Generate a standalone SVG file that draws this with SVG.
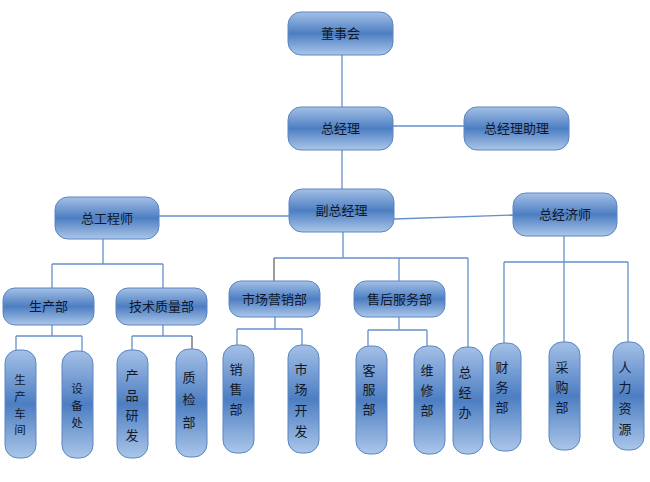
<svg xmlns="http://www.w3.org/2000/svg" width="650" height="482" viewBox="0 0 650 482">
<defs>
<linearGradient id="g" x1="0" y1="0" x2="0" y2="1">
<stop offset="0" stop-color="#a4c0e6"/>
<stop offset="0.5" stop-color="#4d7ec2"/>
<stop offset="1" stop-color="#abc6e9"/>
</linearGradient>
</defs>
<style>
.n rect{fill:url(#g);stroke:#5a86c2;stroke-width:1}
.n text{font-family:"Noto Sans CJK SC","Noto Sans CJK JP",sans-serif;font-size:13px;fill:#10182a;text-anchor:middle}
.n text.t{font-size:11.5px}
.c line{stroke:#6590cb;stroke-width:1.3;fill:none}
.c line.d{stroke:#666}
</style>
<rect width="650" height="482" fill="#fff"/>
<g class="c" id="connectors">
<line x1="342" y1="55" x2="342" y2="107"/>
<line x1="342" y1="150" x2="342" y2="189"/>
<line x1="393" y1="126" x2="464" y2="126"/>
<line x1="159" y1="216" x2="289" y2="216"/>
<line x1="394" y1="219" x2="513" y2="215"/>
<line x1="103" y1="239" x2="103" y2="264"/>
<line x1="52" y1="264" x2="163" y2="264"/>
<line x1="52" y1="264" x2="52" y2="288"/>
<line x1="163" y1="264" x2="163" y2="288"/>
<line x1="52" y1="325" x2="52" y2="336"/>
<line x1="16" y1="336" x2="82" y2="336"/>
<line x1="16" y1="336" x2="16" y2="350"/>
<line x1="82" y1="336" x2="82" y2="351"/>
<line x1="163" y1="325" x2="163" y2="336"/>
<line x1="132" y1="336" x2="192" y2="336"/>
<line x1="132" y1="336" x2="132" y2="350"/>
<line class="d" x1="192" y1="336" x2="192" y2="349"/>
<line x1="343" y1="232" x2="343" y2="258"/>
<line x1="274" y1="258" x2="468" y2="258"/>
<line class="d" x1="274" y1="258" x2="274" y2="281"/>
<line x1="399" y1="258" x2="399" y2="281"/>
<line x1="468" y1="258" x2="468" y2="347"/>
<line x1="275" y1="317" x2="275" y2="329"/>
<line x1="237" y1="329" x2="302" y2="329"/>
<line x1="237" y1="329" x2="237" y2="345"/>
<line x1="302" y1="329" x2="302" y2="345"/>
<line x1="399" y1="317" x2="399" y2="330"/>
<line x1="368" y1="330" x2="427" y2="330"/>
<line x1="368" y1="330" x2="368" y2="346"/>
<line x1="427" y1="330" x2="427" y2="346"/>
<line x1="564" y1="236" x2="564" y2="342"/>
<line x1="504" y1="262" x2="628" y2="262"/>
<line x1="504" y1="262" x2="504" y2="343"/>
<line x1="628" y1="262" x2="628" y2="342"/>
</g>
<g class="n" id="dongshihui"><rect x="288" y="12" width="105" height="43" rx="13"/><text x="340.5" y="38">董事会</text></g>
<g class="n" id="zongjingli"><rect x="288" y="107" width="105" height="43" rx="13"/><text x="340.5" y="133">总经理</text></g>
<g class="n" id="zongjinglizhuli"><rect x="464" y="107" width="105" height="43" rx="13"/><text x="516.5" y="133">总经理助理</text></g>
<g class="n" id="fuzongjingli"><rect x="289" y="189" width="105" height="43" rx="13"/><text x="341.5" y="215">副总经理</text></g>
<g class="n" id="zonggongchengshi"><rect x="55" y="197" width="104" height="42" rx="13"/><text x="107" y="222.5">总工程师</text></g>
<g class="n" id="zongjingjishi"><rect x="513" y="193" width="104" height="43" rx="13"/><text x="565" y="219">总经济师</text></g>
<g class="n" id="shengchanbu"><rect x="3" y="288" width="91" height="37" rx="12"/><text x="48.5" y="311">生产部</text></g>
<g class="n" id="jishuzhiliangbu"><rect x="116" y="288" width="91" height="37" rx="12"/><text x="161.5" y="311">技术质量部</text></g>
<g class="n" id="shichangyingxiaobu"><rect x="229" y="281" width="91" height="36" rx="12"/><text x="274.5" y="303.5">市场营销部</text></g>
<g class="n" id="shouhoufuwubu"><rect x="354" y="281" width="91" height="36" rx="12"/><text x="399.5" y="303.5">售后服务部</text></g>
<g class="n" id="shengchanchejian"><rect x="5" y="350" width="31" height="108" rx="13"/><text class="t" x="20" y="384"><tspan x="20">生</tspan><tspan x="20" dy="16.8">产</tspan><tspan x="20" dy="16.8">车</tspan><tspan x="20" dy="16.8">间</tspan></text></g>
<g class="n" id="shebeichu"><rect x="62" y="351" width="31" height="107" rx="13"/><text class="t" x="77" y="393"><tspan x="77">设</tspan><tspan x="77" dy="16.8">备</tspan><tspan x="77" dy="16.8">处</tspan></text></g>
<g class="n" id="chanpinyanfa"><rect x="117" y="350" width="31" height="108" rx="13"/><text x="132" y="379.5"><tspan x="132">产</tspan><tspan x="132" dy="20.2">品</tspan><tspan x="132" dy="20.2">研</tspan><tspan x="132" dy="20.2">发</tspan></text></g>
<g class="n" id="zhijianbu"><rect x="176" y="349" width="31" height="108" rx="13"/><text x="189" y="381.5"><tspan x="189">质</tspan><tspan x="189" dy="22.5">检</tspan><tspan x="189" dy="22.5">部</tspan></text></g>
<g class="n" id="xiaoshoubu"><rect x="223" y="345" width="31" height="108" rx="13"/><text x="236" y="373.5"><tspan x="236">销</tspan><tspan x="236" dy="20">售</tspan><tspan x="236" dy="20">部</tspan></text></g>
<g class="n" id="shichangkaifa"><rect x="288" y="345" width="31" height="108" rx="13"/><text x="301" y="373.5"><tspan x="301">市</tspan><tspan x="301" dy="20.7">场</tspan><tspan x="301" dy="20.7">开</tspan><tspan x="301" dy="20.7">发</tspan></text></g>
<g class="n" id="kefubu"><rect x="356" y="346" width="31" height="108" rx="13"/><text x="369" y="374.5"><tspan x="369">客</tspan><tspan x="369" dy="19.5">服</tspan><tspan x="369" dy="19.5">部</tspan></text></g>
<g class="n" id="weixiubu"><rect x="414" y="346" width="31" height="108" rx="13"/><text x="427" y="374.5"><tspan x="427">维</tspan><tspan x="427" dy="20">修</tspan><tspan x="427" dy="20">部</tspan></text></g>
<g class="n" id="zongjingban"><rect x="453" y="347" width="30" height="107" rx="13"/><text x="465" y="376.5"><tspan x="465">总</tspan><tspan x="465" dy="20">经</tspan><tspan x="465" dy="20">办</tspan></text></g>
<g class="n" id="caiwubu"><rect x="490" y="343" width="31" height="108" rx="13"/><text x="502" y="371.5"><tspan x="502">财</tspan><tspan x="502" dy="20">务</tspan><tspan x="502" dy="20">部</tspan></text></g>
<g class="n" id="caigoubu"><rect x="549" y="342" width="31" height="108" rx="13"/><text x="562" y="371.5"><tspan x="562">采</tspan><tspan x="562" dy="20">购</tspan><tspan x="562" dy="20">部</tspan></text></g>
<g class="n" id="renliziyuan"><rect x="613" y="342" width="31" height="108" rx="13"/><text x="625" y="371.5"><tspan x="625">人</tspan><tspan x="625" dy="20.7">力</tspan><tspan x="625" dy="20.7">资</tspan><tspan x="625" dy="20.7">源</tspan></text></g>
</svg>
